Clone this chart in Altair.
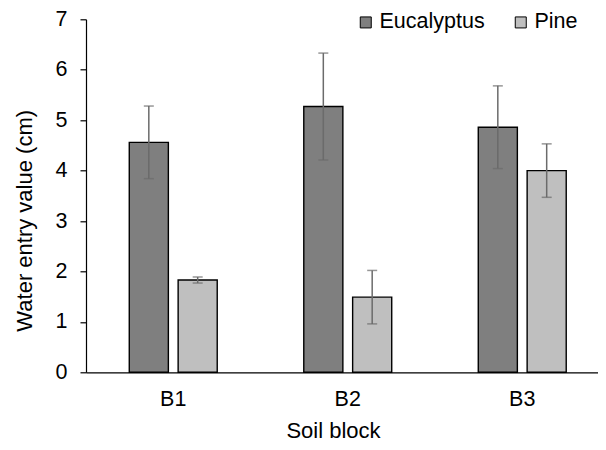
import altair as alt
import pandas as pd

blocks = ["B1", "B2", "B3"]
species = ["Eucalyptus", "Pine"]
eucalyptus_mean = [4.56, 5.27, 4.86]
eucalyptus_err = [0.72, 1.06, 0.82]
pine_mean = [1.83, 1.49, 4.00]
pine_err = [0.06, 0.53, 0.53]
colors = ["#7f7f7f", "#bfbfbf"]

rows = []
for i, b in enumerate(blocks):
    rows.append(dict(block=b, species="Eucalyptus", mean=eucalyptus_mean[i], err=eucalyptus_err[i]))
    rows.append(dict(block=b, species="Pine", mean=pine_mean[i], err=pine_err[i]))
df = pd.DataFrame(rows)
df["lo"] = df["mean"] - df["err"]
df["hi"] = df["mean"] + df["err"]

FONT = "Liberation Sans"
W, H = 512, 353
YT = "Water entry value (cm)"

xenc = alt.X(
    "block:N", sort=blocks, title="Soil block",
    scale=alt.Scale(range=[0, 523.5], paddingInner=0.496, paddingOuter=0.248),
    axis=alt.Axis(labelAngle=0, ticks=False, tickSize=0, labelFontSize=21.5,
                  labelBaseline="middle", labelPadding=27.5,
                  titleFontSize=22, titleFontWeight="normal", titleBaseline="alphabetic",
                  titleX=247, titleY=65, titleAnchor="start", titleAlign="center",
                  domainColor="#000000", domainWidth=1.2, labelColor="#000000",
                  titleColor="#000000"),
)
xoff = alt.XOffset("species:N", sort=species, scale=alt.Scale(paddingInner=0.2, paddingOuter=0))

bars = alt.Chart(df).mark_bar(stroke="#000000", strokeWidth=1.4).encode(
    x=xenc,
    xOffset=xoff,
    y=alt.Y("mean:Q", title=YT, scale=alt.Scale(domain=[0, 7], nice=False),
            axis=alt.Axis(values=list(range(8)), grid=False, tickSize=6, tickColor="#000000",
                          tickWidth=1.2, domainColor="#000000", domainWidth=1.2,
                          labelFontSize=21.5, labelPadding=13, labelColor="#000000",
                          titleFontSize=22, titleFontWeight="normal", titleColor="#000000",
                          titleX=-62, titleY=201, titleAngle=270, titleBaseline="middle",
                          titleAlign="center")),
    color=alt.Color("species:N", sort=species,
                    scale=alt.Scale(domain=species, range=colors),
                    legend=alt.Legend(title=None, orient="none", legendX=269, legendY=-8,
                                      direction="horizontal", symbolType="square",
                                      symbolSize=121, symbolStrokeColor="#000000",
                                      symbolStrokeWidth=1, labelFontSize=21.5,
                                      labelColor="#000000", labelOffset=3,
                                      columnPadding=25, padding=0, symbolOpacity=1)),
)

rule = alt.Chart(df).mark_rule(color="#6b6b6b", strokeWidth=1.5).encode(
    x=xenc, xOffset=xoff,
    y=alt.Y("lo:Q", title=YT), y2="hi:Q",
)
cap_hi = alt.Chart(df).mark_tick(color="#6b6b6b", thickness=1.5, size=10, orient="horizontal").encode(
    x=xenc, xOffset=xoff, y=alt.Y("hi:Q", title=YT),
)
cap_lo = alt.Chart(df).mark_tick(color="#6b6b6b", thickness=1.5, size=10, orient="horizontal").encode(
    x=xenc, xOffset=xoff, y=alt.Y("lo:Q", title=YT),
)

chart = alt.layer(bars, rule, cap_hi, cap_lo).properties(
    width=W, height=H,
    autosize=alt.AutoSizeParams(type="none"),
    padding={"left": 78, "top": 11.3, "right": 0, "bottom": 69.7},
).configure(font=FONT).configure_view(stroke=None)

chart.save("out.html", embed_options={"renderer": "svg", "actions": False})
